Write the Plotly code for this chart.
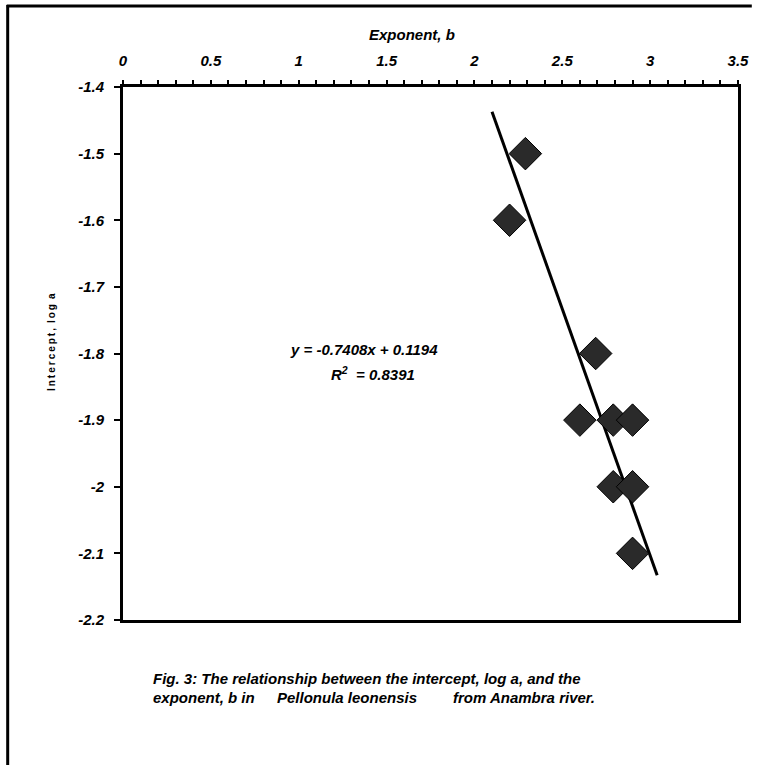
import plotly.graph_objects as go

# ---- data ----
exponent_b = [2.29, 2.20, 2.69, 2.60, 2.79, 2.90, 2.79, 2.90, 2.90]
intercept_log_a = [-1.5, -1.6, -1.8, -1.9, -1.9, -1.9, -2.0, -2.0, -2.1]
trend_x = [2.10, 3.04]
trend_y = [-1.437, -2.133]
x_tick_vals = [0, 0.5, 1, 1.5, 2, 2.5, 3, 3.5]
x_tick_text = ["0", "0.5", "1", "1.5", "2", "2.5", "3", "3.5"]
y_tick_vals = [-1.4, -1.5, -1.6, -1.7, -1.8, -1.9, -2.0, -2.1, -2.2]
y_tick_text = ["-1.4", "-1.5", "-1.6", "-1.7", "-1.8", "-1.9", "-2", "-2.1", "-2.2"]
equation_text = "y = -0.7408x + 0.1194"
r2_text = "R<sup>2</sup>\u00a0 = 0.8391"

W, H = 761, 765
L, R, T, B = 123, 14, 87, 145
PW, PH = W - L - R, H - T - B


def px(x):
    return (x - L) / PW


def py(y):
    return (H - B - y) / PH


FONT = "Liberation Sans, Arial, sans-serif"
BI = dict(family=FONT, size=15, color="black", weight="bold", style="italic")

fig = go.Figure()
fig.add_trace(go.Scatter(
    x=trend_x, y=trend_y, mode="lines",
    line=dict(color="black", width=3), showlegend=False, hoverinfo="skip"))
fig.add_trace(go.Scatter(
    x=exponent_b, y=intercept_log_a, mode="markers",
    marker=dict(symbol="diamond", size=25, color="#2a2a2a",
                line=dict(color="#000000", width=1)),
    showlegend=False))

fig.update_layout(
    width=W, height=H,
    margin=dict(l=L, r=R, t=T, b=B, pad=0),
    paper_bgcolor="white", plot_bgcolor="white",
    font=dict(family=FONT, color="black"),
    xaxis=dict(
        side="top", range=[0, 3.5], tickvals=x_tick_vals, ticktext=x_tick_text,
        ticks="outside", ticklen=4, tickwidth=1.5, tickcolor="black",
        minor=dict(dtick=0.1, ticks="outside", ticklen=4, tickwidth=1.5, tickcolor="black"),
        showline=True, linecolor="black", linewidth=2.5, mirror=True,
        showgrid=False, zeroline=False, tickfont=BI, ticklabelstandoff=8,
    ),
    yaxis=dict(
        range=[-2.2, -1.4], tickvals=y_tick_vals, ticktext=y_tick_text,
        ticks="outside", ticklen=6, tickwidth=1.5, tickcolor="black",
        showline=True, linecolor="black", linewidth=3, mirror=True,
        showgrid=False, zeroline=False, tickfont=BI, ticklabelstandoff=7,
    ),
)

ytitle = "\u2009".join(list("Intercept,")) + "\u2002" + "\u2009".join(list("log")) + "\u2002a"

annotations = [
    dict(text="Exponent, b", x=px(416), y=py(34), xanchor="center", yanchor="middle",
         font=BI),
    dict(text=ytitle,
         x=px(50), y=py(342), xanchor="center", yanchor="middle", textangle=-90,
         font=dict(family=FONT, size=10, weight="bold", color="black")),
    dict(text=equation_text, x=px(290), y=py(349), xanchor="left", yanchor="middle",
         font=BI),
    dict(text=r2_text, x=px(332), y=py(373), xanchor="left", yanchor="middle",
         font=BI),
    dict(text="Fig. 3: The relationship between the intercept, log a, and the",
         x=px(151), y=py(678), xanchor="left", yanchor="middle", font=BI),
    dict(text="exponent, b in", x=px(151), y=py(697), xanchor="left", yanchor="middle",
         font=BI),
    dict(text="Pellonula leonensis", x=px(277), y=py(697), xanchor="left", yanchor="middle",
         font=BI),
    dict(text="from Anambra river.", x=px(456), y=py(697), xanchor="left", yanchor="middle",
         font=BI),
]
for a in annotations:
    a.update(xref="paper", yref="paper", showarrow=False)
fig.update_layout(annotations=annotations)

# outer frame (top and left edges visible in the scan)
fig.add_shape(type="line", xref="paper", yref="paper",
              x0=px(5), x1=px(761), y0=py(6), y1=py(6),
              line=dict(color="black", width=3))
fig.add_shape(type="line", xref="paper", yref="paper",
              x0=px(6), x1=px(6), y0=py(5), y1=py(765),
              line=dict(color="black", width=3))

fig.write_html("out.html", config={"displayModeBar": False},
               post_script="document.body.style.margin='0';")
